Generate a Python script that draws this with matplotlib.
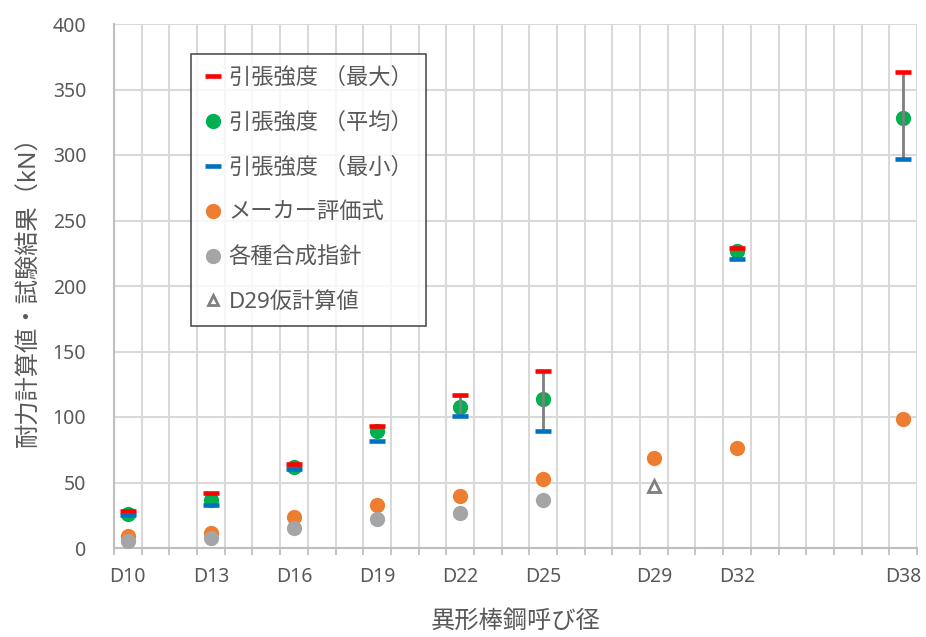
import matplotlib
matplotlib.use("Agg")
import matplotlib.pyplot as plt
from matplotlib.lines import Line2D
import numpy as np

plt.rcParams['font.family'] = ['Noto Sans', 'Noto Sans CJK JP', 'DejaVu Sans']

# ---- data ----
sizes = [10, 13, 16, 19, 22, 25, 29, 32, 38]
size_labels = ['D10', 'D13', 'D16', 'D19', 'D22', 'D25', 'D29', 'D32', 'D38']

test_x = [10, 13, 16, 19, 22, 25, 32, 38]
tensile_max = [28, 42, 64.5, 93.5, 116.5, 135, 229, 363]
tensile_avg = [26, 37, 61.5, 89, 108, 113.5, 227, 328]
tensile_min = [25.5, 32.5, 60, 82, 101, 89, 220.5, 297]
show_range = [False, False, False, False, True, True, False, True]

maker_x = [10, 13, 16, 19, 22, 25, 29, 32, 38]
maker_vals = [9, 11.5, 23.5, 33, 40, 52.5, 68.5, 76.5, 98.5]

guide_x = [10, 13, 16, 19, 22, 25]
guide_vals = [5, 8, 15.5, 22, 27, 37]

prov_x = [29]
prov_vals = [47]

labels = ['引張強度 （最大）', '引張強度 （平均）', '引張強度 （最小）',
          'メーカー評価式', '各種合成指針', 'D29仮計算値']

# ---- style ----
RED = '#FF0000'
GREEN = '#00B050'
BLUE = '#0070C0'
ORANGE = '#ED7D31'
GRAY = '#A5A5A5'
TXT = '#595959'
GRID = '#D9D9D9'

fig = plt.figure(figsize=(9.26, 6.37), dpi=100)
ax = fig.add_axes([114/926, 1-548/637, (917-114)/926, (548-24)/637])

# range lines
for x, lo, hi, s in zip(test_x, tensile_min, tensile_max, show_range):
    if s:
        ax.vlines(x, lo, hi, color='#7F7F7F', lw=2.0, zorder=5)

ms = 11
ax.plot(test_x, tensile_avg, 'o', color=GREEN, ms=ms, mec='none', zorder=4)
ax.plot(test_x, tensile_max, '_', color=RED, ms=11, mew=3.3, zorder=6)
ax.plot(test_x, tensile_min, '_', color=BLUE, ms=11, mew=3.3, zorder=6)
ax.plot(maker_x, maker_vals, 'o', color=ORANGE, ms=ms, mec='none', zorder=4)
ax.plot(guide_x, guide_vals, 'o', color=GRAY, ms=ms, mec='none', zorder=4)
ax.plot(prov_x, prov_vals, '^', mfc='none', mec='#7F7F7F', ms=8.5, mew=2.0, zorder=4)

ax.set_xlim(9.5, 38.5)
ax.set_ylim(0, 400)
ax.set_yticks(np.arange(0, 401, 50))
ax.set_xticks(sizes)
ax.set_xticklabels(size_labels)
ax.set_xticks(np.arange(9.5, 38.6, 1.0), minor=True)
ax.grid(False)
ax.grid(True, which='minor', axis='x', color=GRID, lw=1.5, zorder=0)
ax.grid(True, which='major', axis='y', color=GRID, lw=1.5, zorder=0)
ax.set_axisbelow(True)

ax.tick_params(axis='x', which='major', length=0, pad=14, labelsize=14, labelcolor=TXT)
ax.tick_params(axis='x', which='minor', length=5, width=1.3, color='#BFBFBF', direction='out')
ax.tick_params(axis='y', which='both', length=0, pad=20, labelsize=14, labelcolor=TXT)

for side in ['top', 'right']:
    ax.spines[side].set_visible(False)
ax.spines['left'].set_color('#BFBFBF')
ax.spines['bottom'].set_color('#BFBFBF')
ax.spines['left'].set_linewidth(1.5)
ax.spines['bottom'].set_linewidth(1.5)

ax.set_xlabel('異形棒鋼呼び径', fontsize=17.5, color=TXT, labelpad=16)
ax.set_ylabel('耐力計算値・試験結果（kN）', fontsize=17.5, color=TXT, labelpad=8)

handles = [
    Line2D([], [], ls='none', marker='_', color=RED, ms=11, mew=3.3),
    Line2D([], [], ls='none', marker='o', color=GREEN, ms=ms, mec='none'),
    Line2D([], [], ls='none', marker='_', color=BLUE, ms=11, mew=3.3),
    Line2D([], [], ls='none', marker='o', color=ORANGE, ms=ms, mec='none'),
    Line2D([], [], ls='none', marker='o', color=GRAY, ms=ms, mec='none'),
    Line2D([], [], ls='none', marker='^', mfc='none', mec='#7F7F7F', ms=7.5, mew=2.0),
]
leg = ax.legend(handles, labels, loc='upper left', bbox_to_anchor=((191-114)/803, (548-54)/524),
                borderaxespad=0, frameon=True, fancybox=False, fontsize=16,
                labelspacing=1.07, handlelength=0.75, handletextpad=0.35,
                borderpad=0.6, labelcolor=TXT)
leg.get_frame().set_edgecolor('#262626')
leg.get_frame().set_linewidth(1.2)
leg.set_zorder(10)

fig.savefig('out.png', dpi=100)
